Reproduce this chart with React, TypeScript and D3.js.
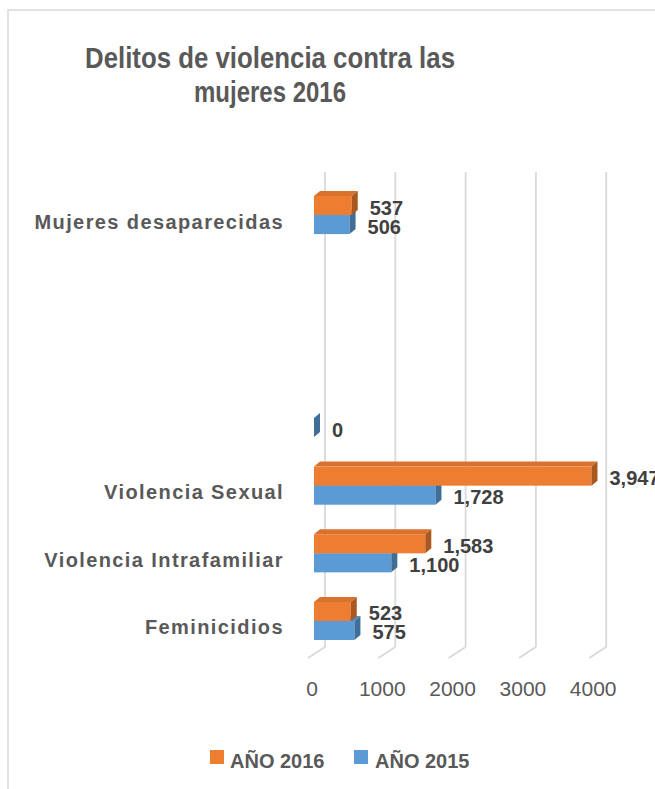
import React from "react";
import * as d3 from "d3";

const categories = [
  "Feminicidios",
  "Violencia Intrafamiliar",
  "Violencia Sexual",
  "",
  "",
  "",
  "Mujeres desaparecidas",
];
const values2016: (number | null)[] = [523, 1583, 3947, null, null, null, 537];
const values2015: (number | null)[] = [575, 1100, 1728, 0, null, null, 506];
const xTicks = [0, 1000, 2000, 3000, 4000];
const seriesNames = ["AÑO 2016", "AÑO 2015"];
const titleLines = ["Delitos de violencia contra las", "mujeres 2016"];

const W = 655;
const H = 789;
const FONT = "'Liberation Sans', Arial, sans-serif";

const ORANGE = { front: "#ED7D31", top: "#D9722C", side: "#A9581F" };
const BLUE = { front: "#5B9BD5", top: "#4F88BC", side: "#3F6E99" };

export default function App() {
  const xFront = d3.scaleLinear().domain([0, 4000]).range([314, 595.2]);
  const backDx = 11;
  const floorDx = 17;
  const floorDy = 11;
  const gridTop = 172;
  const gridBottom = 647;

  const y = d3
    .scaleBand<number>()
    .domain(categories.map((_, i) => i))
    .range([654.8, 181.2])
    .paddingInner(0.437)
    .paddingOuter(0.2185);
  const bw = y.bandwidth();
  const half = bw / 2;
  const bdx = 6;
  const bdy = -5;
  const fmt = d3.format(",");

  const bar = (v: number, y0: number, h: number, c: typeof ORANGE, key: string) => {
    const x0 = xFront(0);
    const x1 = xFront(v);
    const y1 = y0 + h;
    return (
      <g key={key}>
        <rect x={x0} y={y0} width={Math.max(0, x1 - x0)} height={h} fill={c.front} />
        <polygon
          points={`${x0},${y0} ${x1},${y0} ${x1 + bdx},${y0 + bdy} ${x0 + bdx},${y0 + bdy}`}
          fill={c.top}
        />
        <polygon
          points={`${x1},${y0} ${x1 + bdx},${y0 + bdy} ${x1 + bdx},${y1 + bdy} ${x1},${y1}`}
          fill={c.side}
        />
      </g>
    );
  };

  return (
    <svg
      width={W}
      height={H}
      style={{ position: "absolute", left: 0, top: 0, display: "block", background: "#fff" }}
    >
      <rect x={8} y={10} width={700} height={850} fill="#fff" stroke="#d9d9d9" strokeWidth={1.5} />

      {titleLines.map((t, i) => (
        <text
          key={i}
          x={270}
          y={68 + i * 34}
          textAnchor="middle"
          fontFamily={FONT}
          fontWeight="bold"
          fontSize={29}
          fill="#595959"
          textLength={i === 0 ? 370 : 152}
          lengthAdjust="spacingAndGlyphs"
        >
          {t}
        </text>
      ))}

      {/* gridlines on back wall and floor */}
      {xTicks.map((t) => {
        const xb = xFront(t) + backDx;
        return (
          <g key={t} stroke="#d9d9d9" strokeWidth={1.8} fill="none">
            <line x1={xb} y1={gridTop} x2={xb} y2={gridBottom} />
            <line x1={xb} y1={gridBottom} x2={xb - floorDx} y2={gridBottom + floorDy} />
          </g>
        );
      })}

      {xTicks.map((t) => (
        <text
          key={t}
          x={xFront(t) - 2}
          y={696}
          textAnchor="middle"
          fontFamily={FONT}
          fontSize={21}
          fill="#595959"
        >
          {t}
        </text>
      ))}

      {/* bars */}
      {categories.map((_, i) => {
        const top = y(i) as number;
        const v15 = values2015[i];
        const v16 = values2016[i];
        return (
          <g key={i}>
            {v15 !== null && bar(v15, top + half, half, BLUE, "b")}
            {v16 !== null && bar(v16, top, half, ORANGE, "o")}
          </g>
        );
      })}

      {/* value labels */}
      {categories.map((_, i) => {
        const top = y(i) as number;
        const v15 = values2015[i];
        const v16 = values2016[i];
        return (
          <g key={i} fontFamily={FONT} fontWeight="bold" fontSize={20} fill="#404040">
            {v16 !== null && (
              <text x={xFront(v16) + 18} y={top + half / 2 + 2} dominantBaseline="central">
                {fmt(v16)}
              </text>
            )}
            {v15 !== null && (
              <text x={xFront(v15) + 18} y={top + half * 1.5 + 2} dominantBaseline="central">
                {fmt(v15)}
              </text>
            )}
          </g>
        );
      })}

      {/* category labels */}
      {categories.map((c, i) => (
        <text
          key={i}
          x={284}
          y={(y(i) as number) + half + 13.5}
          textAnchor="end"
          fontFamily={FONT}
          fontWeight="bold"
          fontSize={20}
          letterSpacing={1.4}
          fill="#595959"
        >
          {c}
        </text>
      ))}

      {/* legend */}
      <rect x={210} y={750} width={14} height={14} fill={ORANGE.front} />
      <text x={230} y={768} fontFamily={FONT} fontWeight="bold" fontSize={20} fill="#595959">
        {seriesNames[0]}
      </text>
      <rect x={354} y={750} width={14} height={14} fill={BLUE.front} />
      <text x={375} y={768} fontFamily={FONT} fontWeight="bold" fontSize={20} fill="#595959">
        {seriesNames[1]}
      </text>
    </svg>
  );
}
